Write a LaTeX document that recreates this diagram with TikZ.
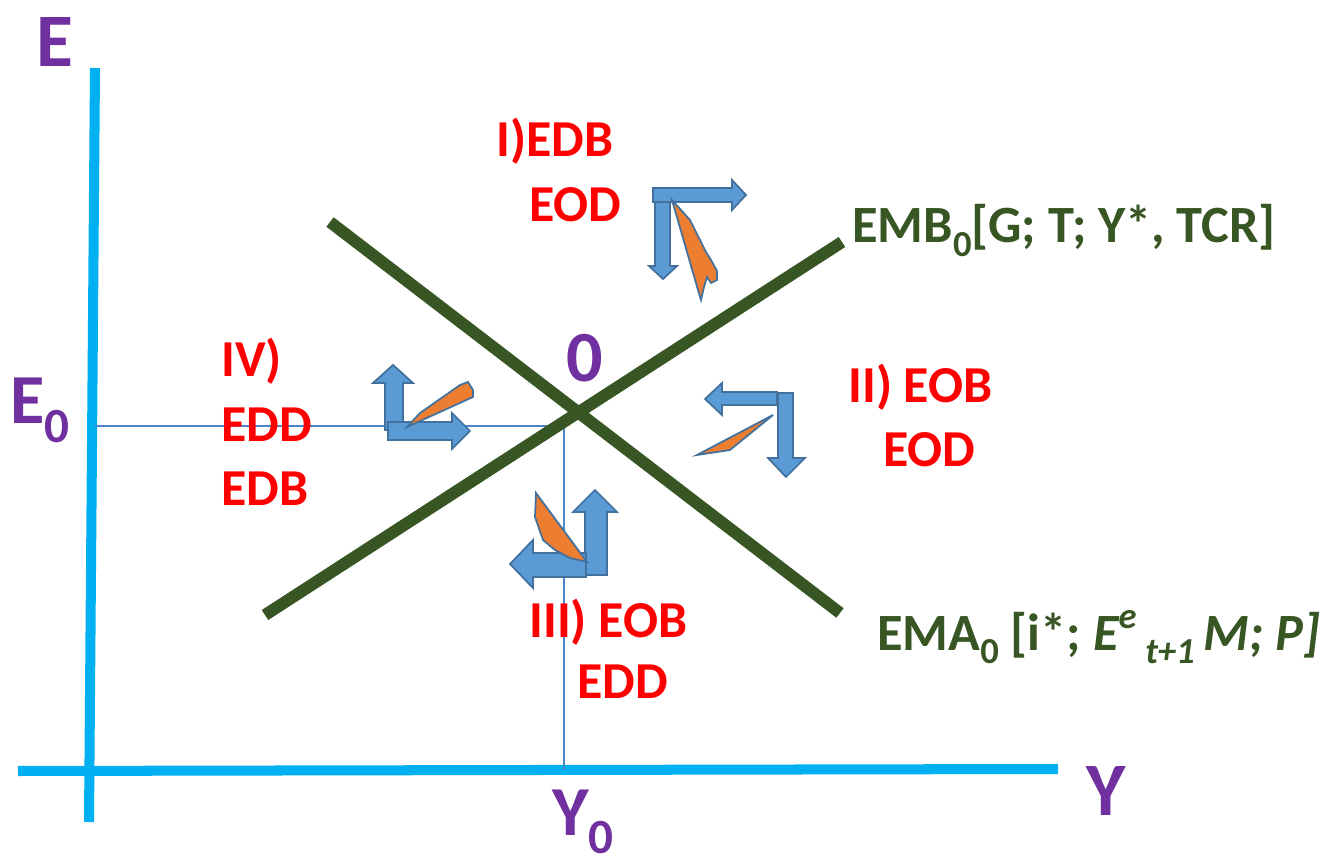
\documentclass[tikz,border=0pt]{standalone}
\usepackage{fontspec}
\setmainfont{Carlito}
\usepackage{xcolor}
\usetikzlibrary{positioning}
\definecolor{axiscyan}{HTML}{00B0F0}
\definecolor{curvegreen}{HTML}{375623}
\definecolor{guideblue}{HTML}{4A86C8}
\definecolor{lblred}{HTML}{FF0000}
\definecolor{lblpurple}{HTML}{7030A0}
\definecolor{arrowblue}{HTML}{5B9BD5}
\definecolor{arrowedge}{HTML}{41719C}
\definecolor{wedgeorange}{HTML}{ED7D31}
\newcommand{\lowsub}[1]{\raisebox{-0.26em}[\height][0pt]{\scalebox{0.7}{#1}}}
\newcommand{\highsup}[1]{\raisebox{0.42em}{\scalebox{0.7}{#1}}}

\begin{document}
\begin{tikzpicture}[
    x=0.02cm, y=-0.02cm,
    axis/.style={draw=axiscyan, line width=5.7pt},
    curve/.style={draw=curvegreen, line width=6.8pt},
    guide/.style={draw=guideblue, line width=0.6pt},
    blockarrow/.style={fill=arrowblue, draw=arrowedge, line width=1pt},
    wedge/.style={fill=wedgeorange, draw=arrowedge, line width=1pt},
    regime/.style={text=lblred, font=\fontsize{29.5}{35}\selectfont\bfseries, inner sep=0pt, anchor=base west},
    axislbl/.style={text=lblpurple, font=\fontsize{43}{50}\selectfont\bfseries, inner sep=0pt, anchor=base west},
    curvelbl/.style={text=curvegreen, font=\fontsize{29.8}{35}\selectfont\bfseries, inner sep=0pt, anchor=base west},
]
\useasboundingbox (0,0) rectangle (1320,858);

% Axes
\coordinate (ytop) at (95,68);
\coordinate (ybot) at (89,822);
\coordinate (xleft) at (18,771);
\coordinate (xright) at (1058,769);
\draw[axis] (ytop) -- (ybot);
\draw[axis] (xleft) -- (xright);

% Equilibrium guides
\coordinate (e0) at (95,426);
\coordinate (eq) at (564,426);
\coordinate (y0) at (564,770);
\draw[guide] (e0) -- (eq) -- (y0);

% Curves
\coordinate (emb a) at (265,615);
\coordinate (emb b) at (842,242);
\coordinate (ema a) at (330,222);
\coordinate (ema b) at (840,613);
\draw[curve] (emb a) -- (emb b);
\draw[curve] (ema a) -- (ema b);

% Region I
\draw[blockarrow] (655,195) -- (670,195) -- (670,266) -- (677,266) -- (663,279) -- (649,266) -- (655,266) -- cycle;
\draw[blockarrow] (653,188) -- (732,188) -- (732,180) -- (746,195) -- (732,210) -- (732,202) -- (653,202) -- cycle;
\draw[wedge] (672,200) -- (690,220) -- (699,238) -- (706,252) -- (711,260) -- (717,271) -- (717,280) -- (711,283) -- (707,277) -- (704,287) -- (701,300) -- (698,290) -- cycle;

% Region IV
\draw[blockarrow] (385,430) -- (385,383) -- (373,383) -- (393,365) -- (413,383) -- (403,383) -- (403,430) -- cycle;
\draw[blockarrow] (388,422) -- (452,422) -- (452,413) -- (470,431) -- (452,449) -- (452,440) -- (388,440) -- cycle;
\draw[wedge] (407,427) -- (420,413) -- (460,385) -- (468,382) -- (473,390) -- (473,397) -- cycle;

% Region II
\draw[blockarrow] (777,392) -- (722,392) -- (722,383) -- (705,399) -- (722,415) -- (722,405) -- (777,405) -- cycle;
\draw[blockarrow] (778,393) -- (793,393) -- (793,458) -- (805,458) -- (786,477) -- (768,458) -- (778,458) -- cycle;
\draw[wedge] (697,455) -- (730,450) -- (773,415) -- cycle;

% Region III
\draw[blockarrow] (585,575) -- (585,512) -- (573,512) -- (595,490) -- (617,512) -- (607,512) -- (607,575) -- cycle;
\draw[blockarrow] (586,553) -- (533,553) -- (533,540) -- (510,564) -- (533,588) -- (533,577) -- (586,577) -- cycle;
\draw[wedge] (536,493) -- (535,517) -- (543,540) -- (555,550) -- (570,558) -- (587,562) -- cycle;

% Axis labels
\node[axislbl] (lbl e) at (36,67) {E};
\node[axislbl] (lbl y) at (1086,815) {Y};
\node[axislbl, font=\fontsize{40}{46}\selectfont\bfseries] (lbl e0) at (10,424) {E\lowsub{0}};
\node[axislbl, font=\fontsize{40}{46}\selectfont\bfseries] (lbl y0) at (552,835) {Y\lowsub{0}};
\node[axislbl, font=\fontsize{41}{46}\selectfont\bfseries] (lbl eq) at (566,382) {0};

% Regions
\node[regime] (r1a) at (496,157) {I)EDB};
\node[regime] (r1b) at (529,222) {EOD};
\node[regime] (r2a) at (848,403) {II) EOB};
\node[regime] (r2b) at (883,467) {EOD};
\node[regime] (r3a) at (529,637) {III) EOB};
\node[regime] (r3b) at (577,698) {EDD};
\node[regime] (r4a) at (221,377) {IV)};
\node[regime] (r4b) at (221,442) {EDD};
\node[regime] (r4c) at (221,505) {EDB};

% Curve labels
\node[curvelbl] (lbl emb) at (852,243) {EMB\lowsub{0}[G; T; Y*, TCR]};
\node[curvelbl] (lbl ema) at (877,650) {EMA\lowsub{0} [i*; \textit{E\highsup{e}\,\lowsub{t+1}\,M; P]}};

\end{tikzpicture}
\end{document}
